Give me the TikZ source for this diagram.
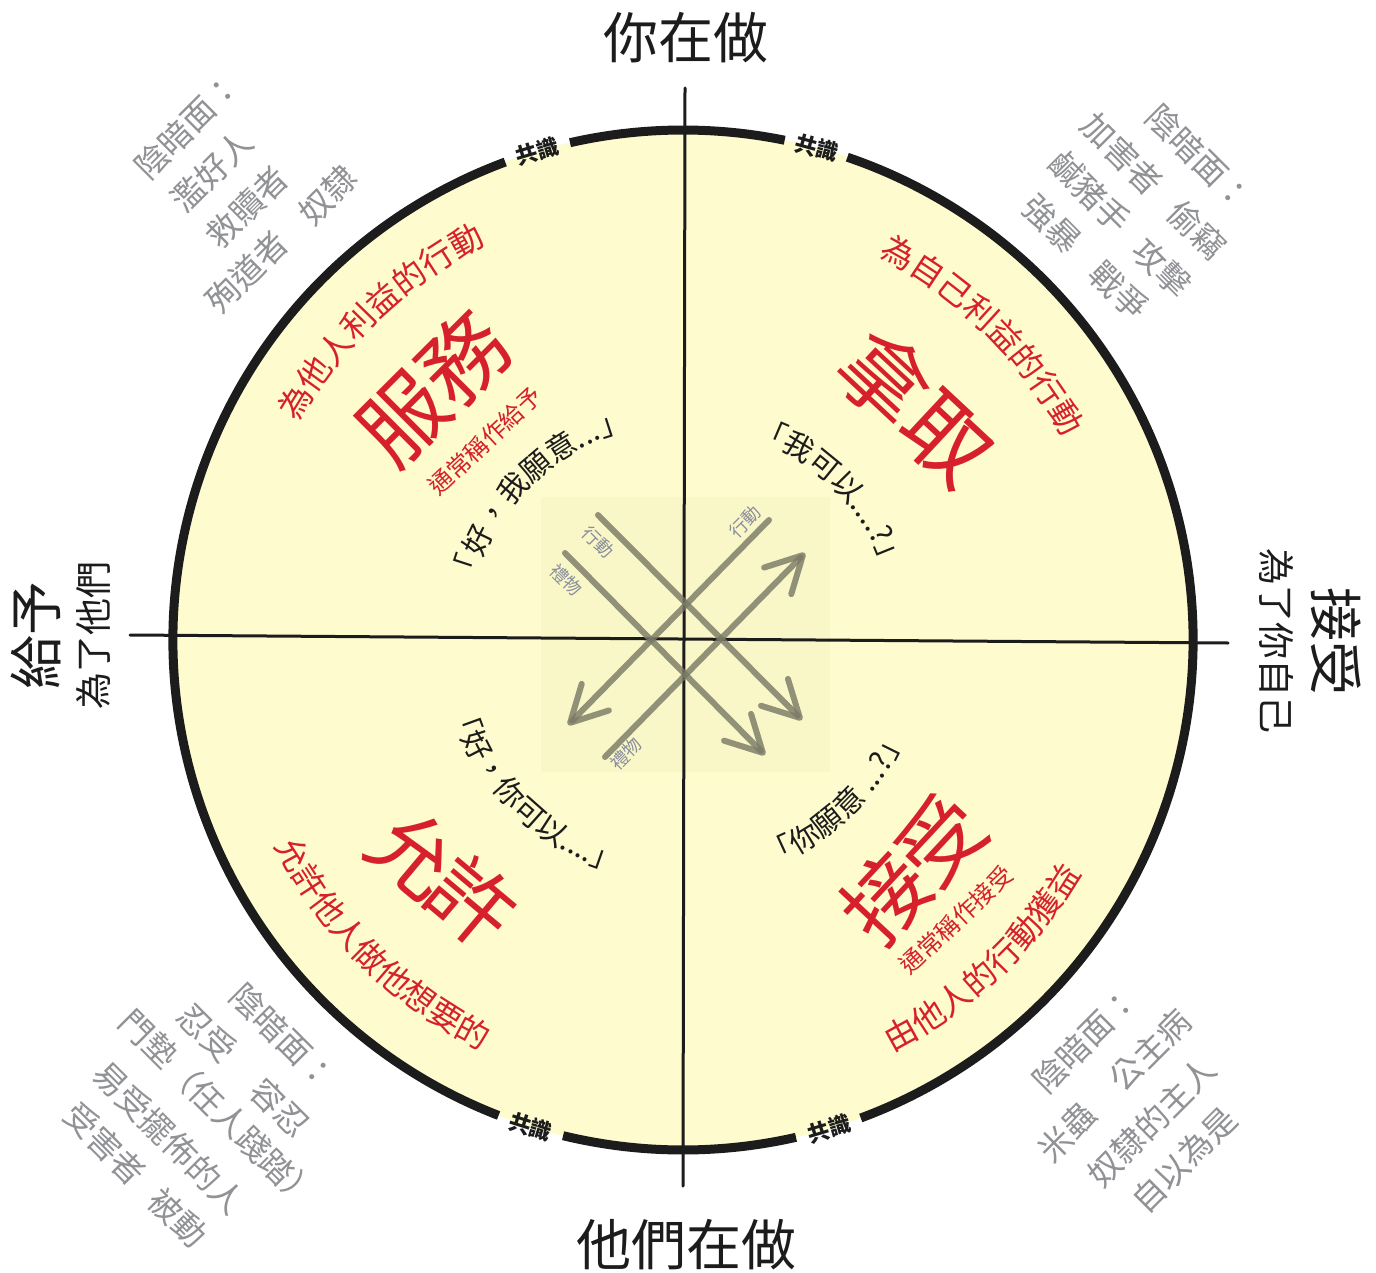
\documentclass[tikz,border=0pt]{standalone}
\usepackage{fontspec}
\setmainfont{Noto Sans CJK TC}
\usetikzlibrary{decorations.text,calc,arrows.meta}
\definecolor{fillc}{RGB}{254,251,206}
\definecolor{redc}{RGB}{214,33,45}
\definecolor{greyc}{RGB}{145,146,150}
\definecolor{arrc}{RGB}{120,120,100}
\definecolor{lblc}{RGB}{138,142,155}
\definecolor{sqc}{RGB}{243,240,194}
\definecolor{inkc}{RGB}{28,28,28}
\newcommand{\fs}[1]{\fontsize{#1}{#1}\selectfont}
% color, size, radius, start angle, end angle, text
\newcommand{\arctext}[6]{%
  \path[decorate,decoration={text along path,text align=center,text color=#1,
    text={|\fs{#2}|#6}}]
    ($(C)+(#4:#3pt)$) arc[start angle=#4,end angle=#5,radius=#3pt];}
\tikzset{
  grey/.style={text=greyc,font=\fs{33},inner sep=0pt},
  bigred/.style={text=redc,font=\fs{86},inner sep=0pt},
  subred/.style={text=redc,font=\fs{24},inner sep=0pt},
  axlabel/.style={text=inkc,font=\fs{55},inner sep=0pt},
  axsub/.style={text=inkc,font=\fs{37},inner sep=0pt},
  cons/.style={text=inkc,font=\fs{22}\bfseries,inner sep=0pt},
  lbl/.style={text=lblc,font=\fs{18},inner sep=0pt},
  rim/.style={draw=inkc,line width=9pt},
  axisline/.style={draw=inkc,line width=3pt,line cap=round},
  arr/.style={draw=arrc,line width=6pt,line cap=round,opacity=0.8,
    -{Straight Barb[length=36pt,width=38pt,round]}},
}
\begin{document}
\begin{tikzpicture}[x=1pt,y=1pt]
\useasboundingbox (0,0) rectangle (1376,-1273);
\fill[white] (0,0) rectangle (1376,-1273);
\coordinate (C) at (683,-640);
\fill[fillc] (C) circle[radius=510pt];
\fill[sqc,opacity=0.45] (541,-497) rectangle (830,-772);
% rim with gaps
\draw[rim] ($(C)+(78.5:510pt)$) arc[start angle=78.5,end angle=102.8,radius=510pt];
\draw[rim] ($(C)+(110.4:510pt)$) arc[start angle=110.4,end angle=248.8,radius=510pt];
\draw[rim] ($(C)+(256.4:510pt)$) arc[start angle=256.4,end angle=282.8,radius=510pt];
\draw[rim] ($(C)+(290.4:510pt)$) arc[start angle=290.4,end angle=431.2,radius=510pt];
% consensus labels
\node[cons,rotate=16.6] (k1) at ($(C)+(106.6:510pt)$) {共識};
\node[cons,rotate=-15.2] (k2) at ($(C)+(74.8:510pt)$) {共識};
\node[cons,rotate=-17.4] (k3) at ($(C)+(252.6:510pt)$) {共識};
\node[cons,rotate=16.6] (k4) at ($(C)+(286.6:510pt)$) {共識};
% axes
\coordinate (vt) at (685,-88);
\coordinate (vb) at (683,-1186);
\coordinate (hl) at (130,-635);
\coordinate (hr) at (1228,-643);
\draw[axisline] (vt) -- (vb);
\draw[axisline] (hl) -- (hr);
% arrows
\coordinate (a1s) at (598,-515); \coordinate (a1e) at (802,-720);
\coordinate (a2s) at (565,-553); \coordinate (a2e) at (765,-755);
\coordinate (a3s) at (769,-520); \coordinate (a3e) at (568,-725);
\coordinate (a4s) at (605,-757); \coordinate (a4e) at (805,-553);
\draw[arr] (a1s) -- (a1e);
\draw[arr] (a2s) -- (a2e);
\draw[arr] (a3s) -- (a3e);
\draw[arr] (a4s) -- (a4e);
\node[lbl,rotate=-45] (l1) at (598,-542) {行動};
\node[lbl,rotate=-45] (l2) at (566,-580) {禮物};
\node[lbl,rotate=45] (l3) at (745,-522) {行動};
\node[lbl,rotate=45] (l4) at (626,-754) {禮物};
% axis labels
\node[axlabel] (top) at (686,-38) {你在做};
\node[axlabel] (bot) at (686,-1245) {他們在做};
\node[axlabel,font=\fs{54},rotate=90] (lt) at (36,-635) {給予};
\node[axsub,rotate=90] (lts) at (93,-635) {為了他們};
\node[axlabel,font=\fs{54},rotate=-90] (rt) at (1336,-641) {接受};
\node[axsub,rotate=-90] (rts) at (1277,-641) {為了你自己};
% big red words
\node[bigred,rotate=45] (w1) at (433,-388) {服務};
\node[bigred,font=\fs{88},rotate=-43] (w2) at (917,-407) {拿取};
\node[bigred,font=\fs{84},rotate=-40] (w3) at (443,-877) {允\kern-8pt許};
\node[bigred,font=\fs{84},rotate=47] (w4) at (913,-869) {接\kern-4pt受};
\node[subred,rotate=43] (s1) at (485,-441) {通常稱作給予};
\node[subred,rotate=43] (s4) at (956,-920) {通常稱作接受};
% curved red texts
\arctext{redc}{33}{442}{163.5}{103.5}{為他人利益的行動}
\arctext{redc}{33}{431}{75.5}{15.5}{為自己利益的行動}
\arctext{redc}{33}{457}{195.3}{255.3}{允許他人做他想要的}
\arctext{redc}{33}{462}{-76.7}{-16.7}{由他人的行動獲益}
% curved quotes
\arctext{inkc}{30}{217}{179.9}{89.9}{「好，我願意...」}
\arctext{inkc}{30}{214}{89.5}{-0.5}{「我可以....?」}
\arctext{inkc}{30}{242}{180.3}{270.3}{「好，你可以....」}
\arctext{inkc}{30}{243}{-91}{-1}{「你願意 ...?」}
% shadow sides
\node[grey,rotate=45] (tl1) at (187,-126) {陰暗面：};
\node[grey,rotate=45] (tl2) at (212,-171) {濫好人};
\node[grey,rotate=45] (tl3) at (247,-207) {救贖者};
\node[grey,rotate=45] (tl4) at (328,-195) {奴隸};
\node[grey,rotate=45] (tl5) at (247,-272) {殉道者};
\node[grey,rotate=-45] (tr1) at (1199,-157) {陰暗面：};
\node[grey,rotate=-45] (tr2) at (1122,-154) {加害者};
\node[grey,rotate=-45] (tr3) at (1197,-230) {偷竊};
\node[grey,rotate=-45] (tr4) at (1090,-192) {鹹豬手};
\node[grey,rotate=-45] (tr5) at (1162,-268) {攻擊};
\node[grey,rotate=-45] (tr6) at (1052,-224) {強暴};
\node[grey,rotate=-45] (tr7) at (1119,-291) {戰爭};
\node[grey,rotate=-45] (bl1) at (283,-1036) {陰暗面：};
\node[grey,rotate=-45] (bl2) at (207,-1033) {忍受};
\node[grey,rotate=-45] (bl3) at (280,-1108) {容忍};
\node[grey,rotate=-45] (bl4) at (219,-1109) {門墊（任人踐踏）};
\node[grey,rotate=-45] (bl5) at (169,-1138) {易受擺佈的人};
\node[grey,rotate=-45] (bl6) at (105,-1144) {受害者};
\node[grey,rotate=-45] (bl7) at (178,-1218) {被動};
\node[grey,rotate=45] (br1) at (1085,-1040) {陰暗面：};
\node[grey,rotate=45] (br2) at (1150,-1050) {公主病};
\node[grey,rotate=45] (br3) at (1067,-1132) {米蟲};
\node[grey,rotate=45] (br4) at (1152,-1122) {奴隸的主人};
\node[grey,rotate=45] (br5) at (1184,-1160) {自以為是};
\end{tikzpicture}
\end{document}
